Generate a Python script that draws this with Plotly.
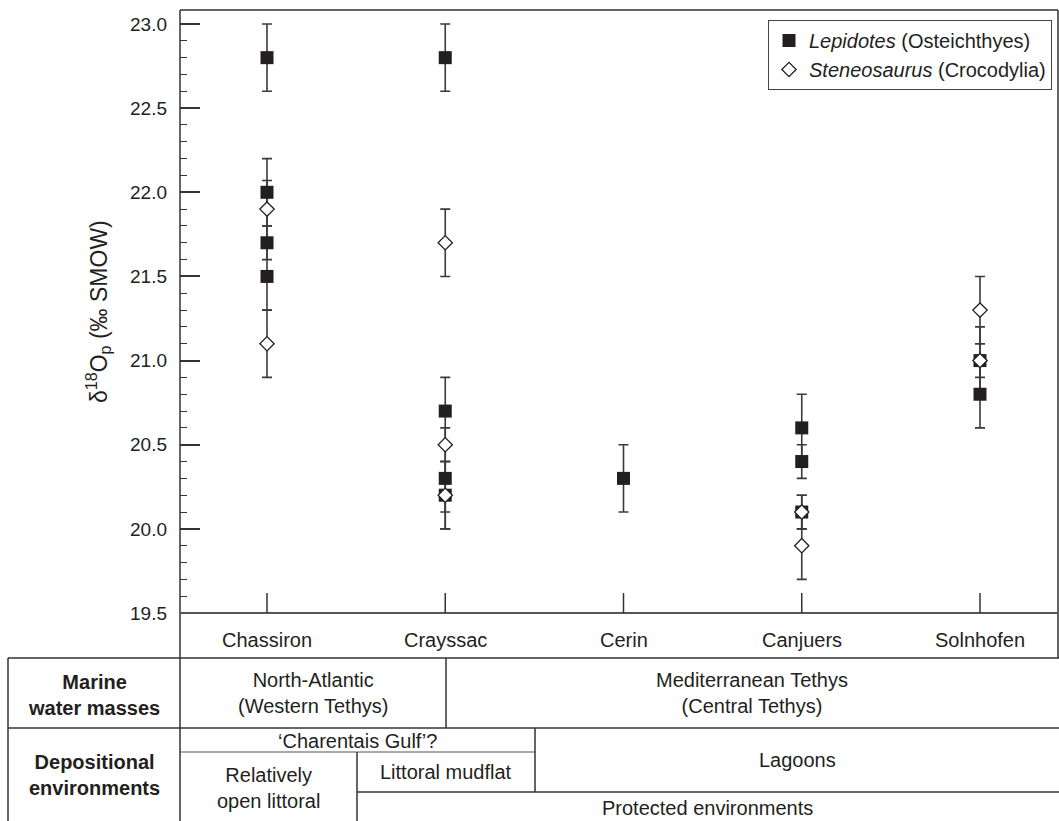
import plotly.graph_objects as go

# ---------------- data ----------------
sites = ["Chassiron", "Crayssac", "Cerin", "Canjuers", "Solnhofen"]

lep_site = ["Chassiron", "Chassiron", "Chassiron", "Chassiron",
            "Crayssac", "Crayssac", "Crayssac", "Crayssac",
            "Cerin",
            "Canjuers", "Canjuers", "Canjuers",
            "Solnhofen", "Solnhofen"]
lep_val = [22.8, 22.0, 21.7, 21.5, 22.8, 20.7, 20.3, 20.2, 20.3, 20.6, 20.4, 20.1, 21.0, 20.8]
lep_err = [0.2, 0.2, 0.1, 0.2, 0.2, 0.2, 0.2, 0.2, 0.2, 0.2, 0.1, 0.1, 0.2, 0.2]

sten_site = ["Chassiron", "Chassiron",
             "Crayssac", "Crayssac", "Crayssac",
             "Canjuers", "Canjuers",
             "Solnhofen", "Solnhofen"]
sten_val = [21.9, 21.1, 21.7, 20.5, 20.2, 20.1, 19.9, 21.3, 21.0]
sten_err = [0.17, 0.2, 0.2, 0.1, 0.2, 0.1, 0.2, 0.2, 0.1]

y_major = [19.5, 20.0, 20.5, 21.0, 21.5, 22.0, 22.5, 23.0]
y_major_text = ["19.5", "20.0", "20.5", "21.0", "21.5", "22.0", "22.5", "23.0"]

lep_name = "<i>Lepidotes</i> (Osteichthyes)"
sten_name = "<i>Steneosaurus</i> (Crocodylia)"

# ---------------- layout helpers ----------------
W, H = 1059, 821
L, R, T, B = 180, 1058, 10, 658  # plot area in pixels


def px(x):
    return (x - L) / (R - L)


def py(y):
    return (B - y) / (B - T)


idx = {s: i for i, s in enumerate(sites)}
lep_x = [idx[s] for s in lep_site]
sten_x = [idx[s] for s in sten_site]

FONT = "Liberation Sans, Arial, Helvetica, sans-serif"
LINE = "#333333"
ERR = "#3a3a3a"
TXT = 20

fig = go.Figure()

# Steneosaurus error bars (drawn first, under everything)
fig.add_trace(go.Scatter(
    x=sten_x, y=sten_val, mode="markers",
    marker=dict(size=1, color="rgba(0,0,0,0)"),
    error_y=dict(type="data", array=sten_err, color=ERR, thickness=1.6, width=5),
    showlegend=False, hoverinfo="skip"))

# Lepidotes
fig.add_trace(go.Scatter(
    x=lep_x, y=lep_val, mode="markers", name=lep_name,
    marker=dict(symbol="square", size=13, color="#231f20",
                line=dict(width=0)),
    error_y=dict(type="data", array=lep_err, color=ERR, thickness=1.6, width=5)))

# Steneosaurus markers
fig.add_trace(go.Scatter(
    x=sten_x, y=sten_val, mode="markers", name=sten_name,
    marker=dict(symbol="diamond", size=11, color="white",
                line=dict(width=1.3, color="#231f20"))))

# y scale: 19.5 at pixel 613, 23.0 at pixel 24
ppu = (613 - 24) / 3.5
y_lo = 19.5 - (B - 613) / ppu
y_hi = 23.0 + (24 - T) / ppu
# x scale: Chassiron at 267, spacing 178.25
sp = 178.25
x_lo = -(267 - L) / sp
x_hi = 4 + (R - 980) / sp

minor_vals = [round(19.5 + 0.1 * k, 1) for k in range(1, 35) if k % 5 != 0]

fig.update_layout(
    width=W, height=H,
    margin=dict(l=L, r=W - R, t=T, b=H - B),
    paper_bgcolor="white", plot_bgcolor="white",
    font=dict(family=FONT, size=TXT, color="#231f20"),
    xaxis=dict(range=[x_lo, x_hi], showgrid=False, zeroline=False,
               showticklabels=False, showline=False, ticks=""),
    yaxis=dict(range=[y_lo, y_hi], showgrid=False, zeroline=False,
               showline=False, tickmode="array", tickvals=y_major,
               ticktext=y_major_text, ticks="inside", ticklen=20,
               tickwidth=1.5, tickcolor=LINE, ticklabelstandoff=12,
               tickfont=dict(size=19, family=FONT, color="#231f20"),
               minor=dict(tickmode="array", tickvals=minor_vals,
                          ticks="inside", ticklen=7, tickwidth=1.2,
                          tickcolor=LINE)),
    legend=dict(x=px(1052), y=py(20), xanchor="right", yanchor="top",
                bordercolor="#444444", borderwidth=1, bgcolor="white",
                font=dict(size=20, family=FONT, color="#231f20"),
                itemwidth=30, tracegroupgap=0),
    showlegend=True,
)

shapes = []


def hline(y, x0, x1, w=1.5, c=LINE):
    shapes.append(dict(type="line", xref="paper", yref="paper",
                       x0=px(x0), x1=px(x1), y0=py(y), y1=py(y),
                       line=dict(color=c, width=w)))


def vline(x, y0, y1, w=1.5, c=LINE):
    shapes.append(dict(type="line", xref="paper", yref="paper",
                       x0=px(x), x1=px(x), y0=py(y0), y1=py(y1),
                       line=dict(color=c, width=w)))


# plot frame
hline(T, L, R)
vline(R, T, B)
vline(L, T, H + 2)
# x-axis line at 19.5
shapes.append(dict(type="line", xref="paper", yref="y", x0=0, x1=1,
                   y0=19.5, y1=19.5, line=dict(color="#555555", width=2)))
# category ticks
for i in range(len(sites)):
    shapes.append(dict(type="line", xref="x", yref="y", x0=i, x1=i,
                       y0=19.5, y1=19.5 + 20 / ppu,
                       line=dict(color=LINE, width=1.5)))

# table lines
hline(658, 8, 1059)
hline(728, 8, 1059)
vline(8, 658, H + 2)
vline(446, 658, 728)
hline(752, 180, 535, w=1.2, c="#555555")
vline(535, 728, 792)
vline(357, 752, H + 2)
hline(792, 357, 1059)

fig.update_layout(shapes=shapes)

ann = []
# category labels
for i, s in enumerate(sites):
    ann.append(dict(x=i, y=py(640), xref="x", yref="paper", text=s,
                    showarrow=False, xanchor="center", yanchor="middle",
                    font=dict(size=TXT)))


def label(text, x, y, bold=False):
    if bold:
        text = "<b>" + text + "</b>"
    ann.append(dict(x=px(x), y=py(y), xref="paper", yref="paper", text=text,
                    showarrow=False, xanchor="center", yanchor="middle",
                    font=dict(size=TXT)))


label("Marine<br>water masses", 94, 695, bold=True)
label("Depositional<br>environments", 94, 775, bold=True)
label("North-Atlantic<br>(Western Tethys)", 313, 693)
label("Mediterranean Tethys<br>(Central Tethys)", 752, 693)
label("‘Charentais Gulf’?", 357, 741)
label("Relatively<br>open littoral", 268, 788)
label("Littoral mudflat", 446, 772)
label("Lagoons", 797, 760)
label("Protected environments", 707, 808)

# y-axis title
ann.append(dict(x=px(98), y=py(312), xref="paper", yref="paper",
                text="δ<sup>18</sup>O<sub>p</sub> (‰ SMOW)", textangle=-90,
                showarrow=False, xanchor="center", yanchor="middle",
                font=dict(size=23)))

fig.update_layout(annotations=ann)

fig.write_html("out.html", config={"displayModeBar": False},
               post_script="document.body.style.margin='0';"
                           "document.body.style.padding='0';")
